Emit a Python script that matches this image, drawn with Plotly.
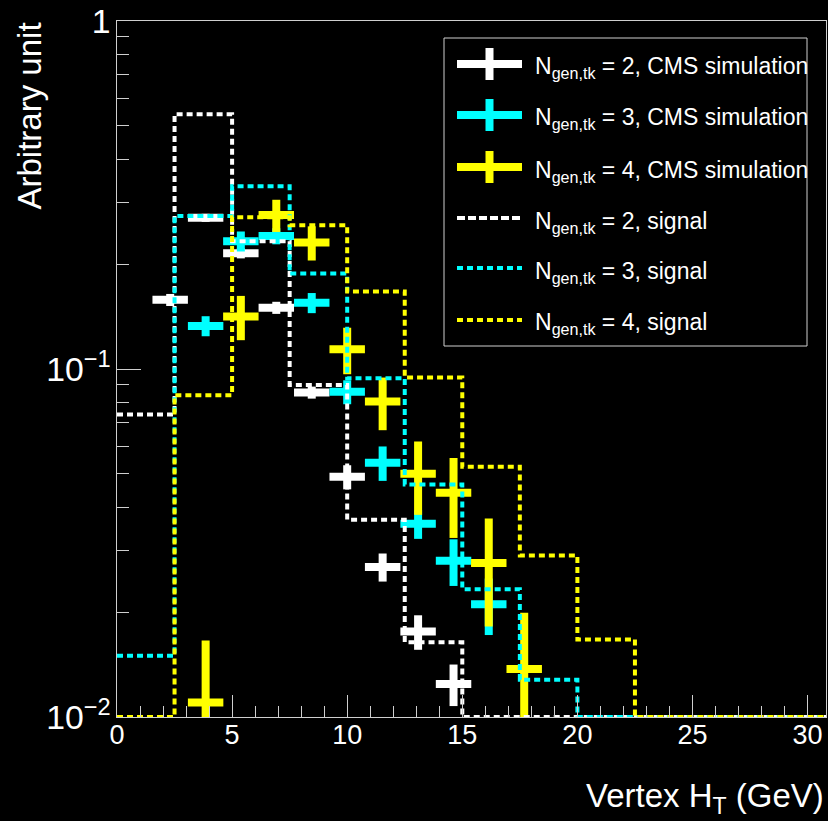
import numpy as np
import plotly.graph_objects as go

# ---------------- data ----------------
# Signal histograms: 2.5 GeV bins starting at 0
SIG_EDGES = [0.0, 2.5, 5.0, 7.5, 10.0, 12.5, 15.0, 17.5, 20.0, 22.5, 25.0, 27.5, 30.0, 32.5]
sig_n2 = [0.074, 0.54, 0.233, 0.090, 0.0369, 0.0164, 0, 0, 0, 0, 0, 0, 0]
sig_n3 = [0.015, 0.275, 0.335, 0.188, 0.094, 0.0466, 0.0233, 0.0128, 0, 0, 0, 0, 0]
sig_n4 = [0, 0.084, 0.273, 0.259, 0.167, 0.0946, 0.0524, 0.0291, 0.0167, 0, 0, 0, 0]

# CMS simulation points (bin centres, half bin width, values, errors)
SIM_HALF_WIDTH = 0.77
sim_n2_x = [2.31, 3.85, 5.38, 6.92, 8.46, 10.0, 11.54, 13.08, 14.62]
sim_n2_y = [0.158, 0.272, 0.215, 0.150, 0.0856, 0.049, 0.027, 0.0176, 0.01245]
sim_n2_e = [0.0063, 0.0072, 0.0071, 0.0060, 0.0034, 0.0039, 0.0025, 0.0020, 0.0017]

sim_n3_x = [3.85, 5.38, 6.92, 8.46, 10.0, 11.54, 13.08, 14.62, 16.15]
sim_n3_y = [0.133, 0.233, 0.241, 0.155, 0.086, 0.0538, 0.0359, 0.0281, 0.0211]
sim_n3_e = [0.0088, 0.0154, 0.0128, 0.0103, 0.0068, 0.0061, 0.0034, 0.0043, 0.0039]

sim_n4_x = [3.85, 5.38, 6.92, 8.46, 10.0, 11.54, 13.08, 14.62, 16.15, 17.69]
sim_n4_y = [0.011, 0.1416, 0.277, 0.231, 0.114, 0.0806, 0.050, 0.0441, 0.0277, 0.01374]
sim_n4_e = [0.0056, 0.0206, 0.0294, 0.026, 0.0174, 0.0139, 0.0119, 0.0114, 0.0095, 0.0062]

SIM_LABELS = ["N<sub>gen,tk</sub> = 2, CMS simulation",
              "N<sub>gen,tk</sub> = 3, CMS simulation",
              "N<sub>gen,tk</sub> = 4, CMS simulation"]
SIG_LABELS = ["N<sub>gen,tk</sub> = 2, signal",
              "N<sub>gen,tk</sub> = 3, signal",
              "N<sub>gen,tk</sub> = 4, signal"]

X_TICKS = [0, 5, 10, 15, 20, 25, 30]

# ---------------- style ----------------
WHITE, CYAN, YELLOW = "#ffffff", "#00ffff", "#ffff00"
COLORS = [WHITE, CYAN, YELLOW]
FONT = "Liberation Sans, Arial, Helvetica, sans-serif"
AXIS_COL = "#cfcfcf"
YMIN, YMAX = 0.01, 1.0
XMAX = 30.8

W, H = 828, 821
ML, MR, MT, MB = 117, 2, 21, 104
PW, PH = W - ML - MR, H - MT - MB

fig = go.Figure()

# simulation crosses
for xs, ys, es, col in [(sim_n2_x, sim_n2_y, sim_n2_e, WHITE),
                        (sim_n3_x, sim_n3_y, sim_n3_e, CYAN),
                        (sim_n4_x, sim_n4_y, sim_n4_e, YELLOW)]:
    fig.add_trace(go.Scatter(
        x=xs, y=ys, mode="markers",
        marker=dict(size=1, color=col),
        error_x=dict(type="constant", value=SIM_HALF_WIDTH, width=0,
                     thickness=8, color=col),
        error_y=dict(type="data", array=es, width=0, thickness=8, color=col),
        showlegend=False, hoverinfo="skip"))

# signal step histograms (empty bins sit on the lower frame)
for vals, col in [(sig_n2, WHITE), (sig_n3, CYAN), (sig_n4, YELLOW)]:
    v = np.maximum(np.array(vals, dtype=float), YMIN)
    fig.add_trace(go.Scatter(
        x=SIG_EDGES, y=list(v) + [v[-1]], mode="lines",
        line=dict(shape="hv", color=col, width=4, dash="6px,4px"),
        showlegend=False, hoverinfo="skip"))


# ---------------- legend (page pixel layout) ----------------
def fx(p):
    return (p - ML) / PW


def fy(p):
    return (MT + PH - p) / PH


shapes = []
annotations = []
LEG_L, LEG_R, LEG_T, LEG_B = 444, 807, 38, 346
shapes.append(dict(type="rect", xref="paper", yref="paper",
                   x0=fx(LEG_L), x1=fx(LEG_R), y0=fy(LEG_B), y1=fy(LEG_T),
                   line=dict(color=AXIS_COL, width=1), fillcolor="black",
                   layer="above"))
row_y = [64, 115, 167, 218, 268, 320]
G0, G1 = 457, 522
GC = (G0 + G1) / 2
labels = SIM_LABELS + SIG_LABELS
for i, (lab, ry) in enumerate(zip(labels, row_y)):
    col = COLORS[i % 3]
    if i < 3:
        shapes.append(dict(type="line", xref="paper", yref="paper",
                           x0=fx(G0), x1=fx(G1), y0=fy(ry), y1=fy(ry),
                           line=dict(color=col, width=8), layer="above"))
        shapes.append(dict(type="line", xref="paper", yref="paper",
                           x0=fx(GC), x1=fx(GC), y0=fy(ry - 16), y1=fy(ry + 16),
                           line=dict(color=col, width=8), layer="above"))
    else:
        shapes.append(dict(type="line", xref="paper", yref="paper",
                           x0=fx(G0), x1=fx(G1), y0=fy(ry), y1=fy(ry),
                           line=dict(color=col, width=4,
                                     dash="8px,3px" if i == 3 else "6px,4px"),
                           layer="above"))
    annotations.append(dict(xref="paper", yref="paper", x=fx(533), y=fy(ry + 4),
                            xanchor="left", yanchor="middle", showarrow=False,
                            text=lab, font=dict(family=FONT, size=23, color="white")))

# axis titles
annotations.append(dict(xref="paper", yref="paper", x=1.0, y=fy(798),
                        xanchor="right", yanchor="middle", showarrow=False,
                        text="Vertex H<sub>T</sub> (GeV)",
                        font=dict(family=FONT, size=33, color="white")))
annotations.append(dict(xref="paper", yref="paper", x=fx(29), y=1.0,
                        xanchor="center", yanchor="top", showarrow=False,
                        textangle=-90, text="Arbitrary unit",
                        font=dict(family=FONT, size=33, color="white")))

fig.update_layout(
    width=W, height=H,
    margin=dict(l=ML, r=MR, t=MT, b=MB),
    paper_bgcolor="black", plot_bgcolor="black",
    font=dict(family=FONT, color="white"),
    shapes=shapes, annotations=annotations,
    showlegend=False,
)
fig.update_xaxes(
    range=[0, XMAX], tickvals=X_TICKS, ticks="inside", ticklen=22,
    tickwidth=1, tickcolor=AXIS_COL, showgrid=False, zeroline=False,
    showline=True, linecolor=AXIS_COL, linewidth=1, mirror=True,
    tickfont=dict(family=FONT, size=27, color="white"),
    ticklabelstandoff=-6,
    minor=dict(dtick=1, ticks="inside", ticklen=11, tickcolor=AXIS_COL,
               showgrid=False),
)
fig.update_yaxes(
    type="log", range=[np.log10(YMIN), np.log10(YMAX)], dtick=1,
    exponentformat="power", ticks="inside", ticklen=24, tickwidth=1,
    tickcolor=AXIS_COL, showgrid=False, zeroline=False,
    showline=True, linecolor=AXIS_COL, linewidth=1, mirror=True,
    tickfont=dict(family=FONT, size=27, color="white"),
    minor=dict(dtick="D1", ticks="inside", ticklen=12, tickcolor=AXIS_COL,
               showgrid=False),
)

fig.write_html("out.html")
